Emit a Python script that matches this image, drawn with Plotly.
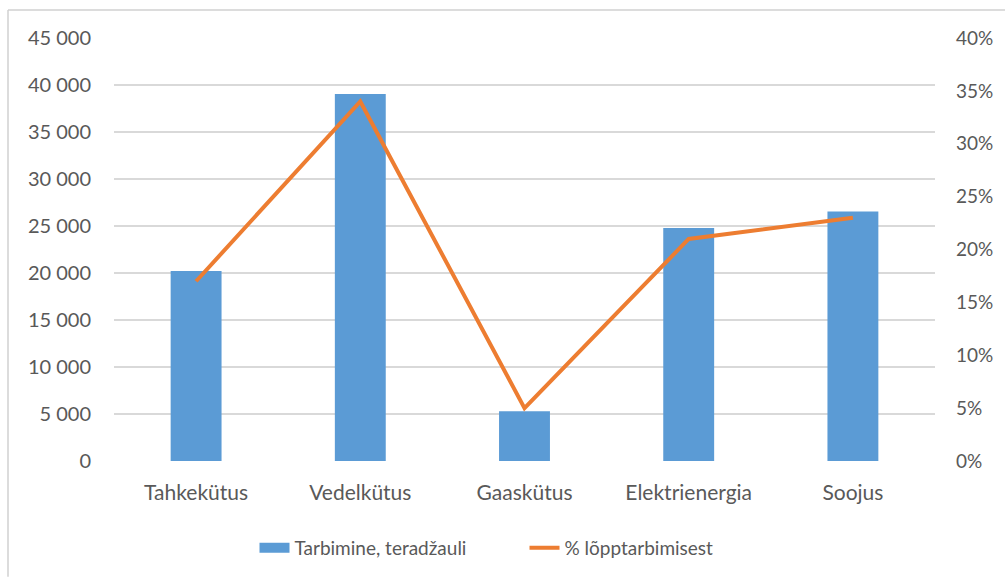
import plotly.graph_objects as go

# Final energy consumption by fuel type
categories = ["Tahkekütus", "Vedelkütus", "Gaaskütus", "Elektrienergia", "Soojus"]
consumption_tj = [20200, 39050, 5300, 24800, 26550]
share_of_final = [0.17, 0.34, 0.05, 0.21, 0.23]

bar_name = "Tarbimine, teradžauli"
line_name = "% lõpptarbimisest"

W, H = 1005, 578
L, R, T, B = 114, 70, 38, 116
pw, ph = W - L - R, H - T - B

text_color = "#595959"
grid_color = "#D9D9D9"
bar_color = "#5B9BD5"
line_color = "#ED7D31"
font_family = "Lato, 'Open Sans', sans-serif"

fig = go.Figure()
fig.add_trace(go.Bar(
    x=categories, y=consumption_tj, name=bar_name,
    marker=dict(color=bar_color, line=dict(width=0)),
    yaxis="y", showlegend=False,
))
# Legend entry for the bars, drawn as a wide flat swatch
fig.add_trace(go.Scatter(
    x=categories, y=[None] * len(categories), name=bar_name,
    mode="lines", line=dict(color=bar_color, width=11),
    yaxis="y", hoverinfo="skip",
))
fig.add_trace(go.Scatter(
    x=categories, y=share_of_final, name=line_name,
    mode="lines", line=dict(color=line_color, width=4),
    yaxis="y2",
))

# Light frame along the left and top edges
def px_x(v):
    return (v - L) / pw

def px_y(v):
    return 1 - (v - T) / ph

shapes = [
    dict(type="line", xref="paper", yref="paper",
         x0=px_x(8), x1=px_x(8), y0=px_y(10), y1=px_y(578),
         line=dict(color="#D0D0D0", width=1.5)),
    dict(type="line", xref="paper", yref="paper",
         x0=px_x(8), x1=px_x(1005), y0=px_y(10), y1=px_y(10),
         line=dict(color="#D0D0D0", width=1.5)),
]

fig.update_layout(
    width=W, height=H,
    margin=dict(l=L, r=R, t=T, b=B, pad=0),
    paper_bgcolor="white", plot_bgcolor="white",
    separators=". ",
    font=dict(family=font_family, size=19, color=text_color),
    bargap=0.69,
    showlegend=True,
    legend=dict(orientation="h", x=0.5, xanchor="center", y=px_y(548), yanchor="middle",
                font=dict(size=19, color=text_color), traceorder="normal",
                entrywidth=225),
    xaxis=dict(showgrid=False, showline=False, zeroline=False, ticks="",
               tickfont=dict(size=21, color=text_color), ticklabelstandoff=17),
    yaxis=dict(range=[0, 45000], dtick=5000, tickformat=",d",
               showgrid=True, gridcolor=grid_color, gridwidth=1.5,
               zeroline=False, showline=False, ticks="",
               tickfont=dict(size=20, color=text_color), ticklabelstandoff=22),
    yaxis2=dict(range=[0, 0.40], dtick=0.05, tickformat=".0%",
                overlaying="y", side="right", showgrid=False,
                zeroline=False, showline=False, ticks="",
                tickfont=dict(size=19, color=text_color), ticklabelstandoff=20),
    shapes=shapes,
)

fig.write_html("out.html")
